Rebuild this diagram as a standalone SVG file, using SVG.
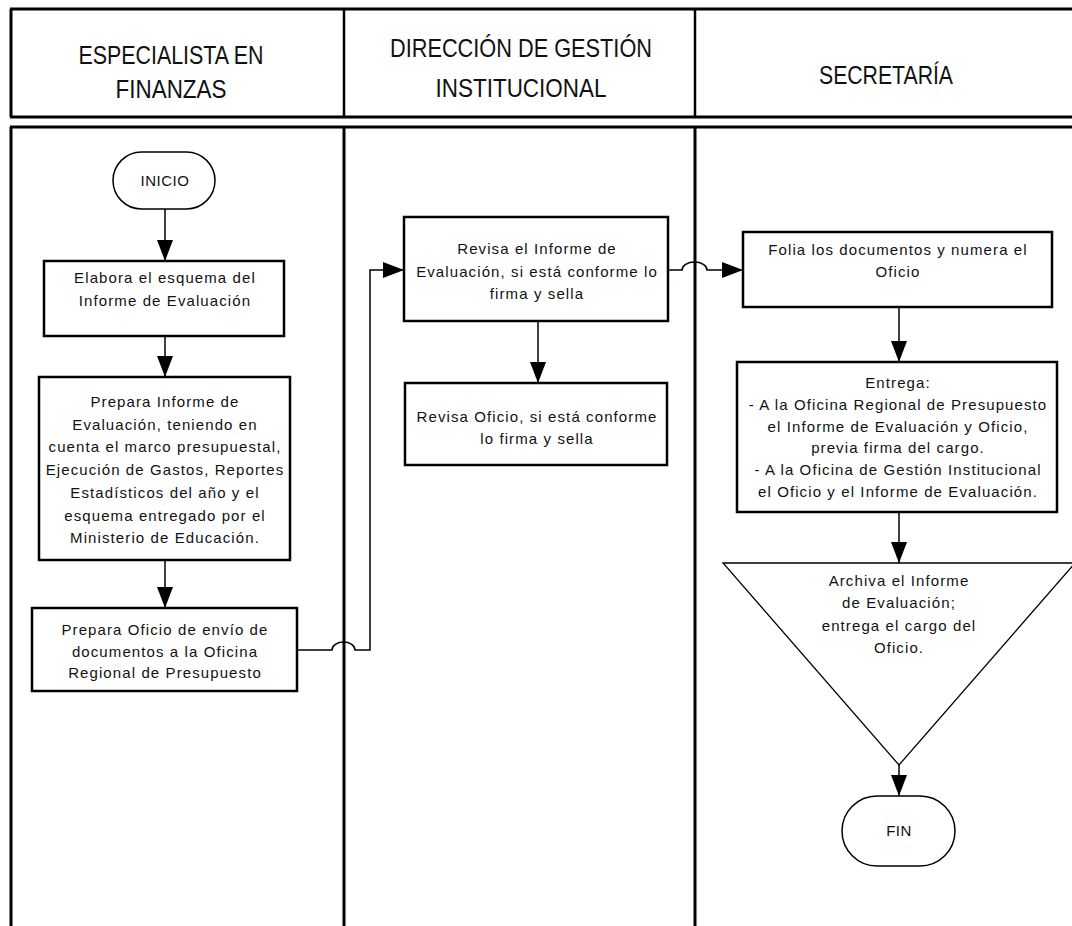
<svg xmlns="http://www.w3.org/2000/svg" width="1072" height="926" viewBox="0 0 1072 926">
  <style>
    .lane { stroke: #000; stroke-width: 3; fill: none; }
    .hdiv { stroke: #000; stroke-width: 2.5; fill: none; }
    .box { fill: #fff; stroke: #000; stroke-width: 2.5; }
    .term { fill: #fff; stroke: #000; stroke-width: 1.5; }
    .tri { fill: #fff; stroke: #000; stroke-width: 1.3; }
    .flow { fill: none; stroke: #000; stroke-width: 1.5; }
    .hd { font-family: "Liberation Sans", Arial, sans-serif; font-size: 25px; fill: #111; text-anchor: middle; }
    .tx { font-family: "Liberation Sans", Arial, sans-serif; font-size: 15px; letter-spacing: 1.1px; fill: #111; text-anchor: middle; }
    .tm { letter-spacing: 0.5px; }
  </style>
  <defs>
    <marker id="arrow" markerUnits="userSpaceOnUse" markerWidth="21" markerHeight="16" refX="21" refY="8" orient="auto">
      <path d="M0,0 L21,8 L0,16 Z" fill="#000"/>
    </marker>
  </defs>

  <rect x="0" y="0" width="1072" height="926" fill="#fff"/>

  <!-- swimlane frame -->
  <g id="lanes">
    <line class="lane" x1="10" y1="9" x2="1072" y2="9"/>
    <line class="lane" x1="10" y1="117" x2="1072" y2="117"/>
    <line class="lane" x1="11" y1="9" x2="11" y2="117"/>
    <line class="hdiv" x1="344" y1="9" x2="344" y2="117"/>
    <line class="hdiv" x1="695" y1="9" x2="695" y2="117"/>
    <line class="lane" x1="10" y1="127" x2="1072" y2="127"/>
    <line class="lane" x1="11" y1="127" x2="11" y2="926"/>
    <line class="lane" x1="344" y1="127" x2="344" y2="926"/>
    <line class="lane" x1="695" y1="127" x2="695" y2="926"/>
    <text class="hd" x="171" y="64" textLength="185" lengthAdjust="spacingAndGlyphs">ESPECIALISTA EN</text>
    <text class="hd" x="171" y="98" textLength="111" lengthAdjust="spacingAndGlyphs">FINANZAS</text>
    <text class="hd" x="521" y="57" textLength="262" lengthAdjust="spacingAndGlyphs">DIRECCIÓN DE GESTIÓN</text>
    <text class="hd" x="521" y="97" textLength="171" lengthAdjust="spacingAndGlyphs">INSTITUCIONAL</text>
    <text class="hd" x="886" y="84" textLength="134" lengthAdjust="spacingAndGlyphs">SECRETARÍA</text>
  </g>

  <!-- connectors -->
  <g id="connectors">
    <line class="flow" x1="165" y1="209" x2="165" y2="261" marker-end="url(#arrow)"/>
    <line class="flow" x1="165" y1="336" x2="165" y2="377" marker-end="url(#arrow)"/>
    <line class="flow" x1="165" y1="560" x2="165" y2="608" marker-end="url(#arrow)"/>
    <path class="flow" d="M297,650 H332 A11.5,8 0 0 1 355,650 H370 V270 H404" marker-end="url(#arrow)"/>
    <line class="flow" x1="538" y1="321" x2="538" y2="383" marker-end="url(#arrow)"/>
    <path class="flow" d="M668,270 H682 A12.5,8 0 0 1 707,270 H743" marker-end="url(#arrow)"/>
    <line class="flow" x1="899" y1="307" x2="899" y2="362" marker-end="url(#arrow)"/>
    <line class="flow" x1="899" y1="512" x2="899" y2="563" marker-end="url(#arrow)"/>
    <line class="flow" x1="899" y1="765" x2="899" y2="796" marker-end="url(#arrow)"/>
  </g>

  <g id="inicio">
    <rect class="term" x="113" y="152" width="102" height="57" rx="28.5" ry="28.5"/>
    <text class="tx tm" x="165" y="186">INICIO</text>
  </g>

  <g id="elabora-esquema">
    <rect class="box" x="44" y="261" width="240" height="75"/>
    <text class="tx" x="165" y="283">Elabora el esquema del</text>
    <text class="tx" x="165" y="306">Informe de Evaluación</text>
  </g>

  <g id="prepara-informe">
    <rect class="box" x="39" y="377" width="251" height="183"/>
    <text class="tx" x="165" y="407">Prepara Informe de</text>
    <text class="tx" x="165" y="429.7">Evaluación, teniendo en</text>
    <text class="tx" x="165" y="452.4">cuenta el marco presupuestal,</text>
    <text class="tx" x="165" y="475.1">Ejecución de Gastos, Reportes</text>
    <text class="tx" x="165" y="497.8">Estadísticos del año y el</text>
    <text class="tx" x="165" y="520.5">esquema entregado por el</text>
    <text class="tx" x="165" y="543.2">Ministerio de Educación.</text>
  </g>

  <g id="prepara-oficio">
    <rect class="box" x="32" y="608" width="265" height="83"/>
    <text class="tx" x="165" y="635">Prepara Oficio de envío de</text>
    <text class="tx" x="165" y="657">documentos a la Oficina</text>
    <text class="tx" x="165" y="678">Regional de Presupuesto</text>
  </g>

  <g id="revisa-informe">
    <rect class="box" x="404" y="217" width="264" height="104"/>
    <text class="tx" x="537" y="254">Revisa el Informe de</text>
    <text class="tx" x="537" y="277">Evaluación, si está conforme lo</text>
    <text class="tx" x="537" y="299">firma y sella</text>
  </g>

  <g id="revisa-oficio">
    <rect class="box" x="405" y="383" width="262" height="82"/>
    <text class="tx" x="537" y="421.5">Revisa Oficio, si está conforme</text>
    <text class="tx" x="537" y="444">lo firma y sella</text>
  </g>

  <g id="folia">
    <rect class="box" x="743" y="232" width="309" height="75"/>
    <text class="tx" x="898" y="255">Folia los documentos y numera el</text>
    <text class="tx" x="898" y="277">Oficio</text>
  </g>

  <g id="entrega">
    <rect class="box" x="737" y="362" width="320" height="150"/>
    <text class="tx" x="898" y="388">Entrega:</text>
    <text class="tx" x="898" y="410">- A la Oficina Regional de Presupuesto</text>
    <text class="tx" x="898" y="432">el Informe de Evaluación y Oficio,</text>
    <text class="tx" x="898" y="453">previa firma del cargo.</text>
    <text class="tx" x="898" y="475">- A la Oficina de Gestión Institucional</text>
    <text class="tx" x="898" y="497">el Oficio y el Informe de Evaluación.</text>
  </g>

  <g id="archiva">
    <polygon class="tri" points="723,563 1075,563 899,765"/>
    <text class="tx" x="899" y="586">Archiva el Informe</text>
    <text class="tx" x="899" y="608">de Evaluación;</text>
    <text class="tx" x="899" y="631">entrega el cargo del</text>
    <text class="tx" x="899" y="653">Oficio.</text>
  </g>

  <g id="fin">
    <rect class="term" x="842" y="796" width="113" height="70" rx="35" ry="35"/>
    <text class="tx tm" x="899" y="836">FIN</text>
  </g>
</svg>
